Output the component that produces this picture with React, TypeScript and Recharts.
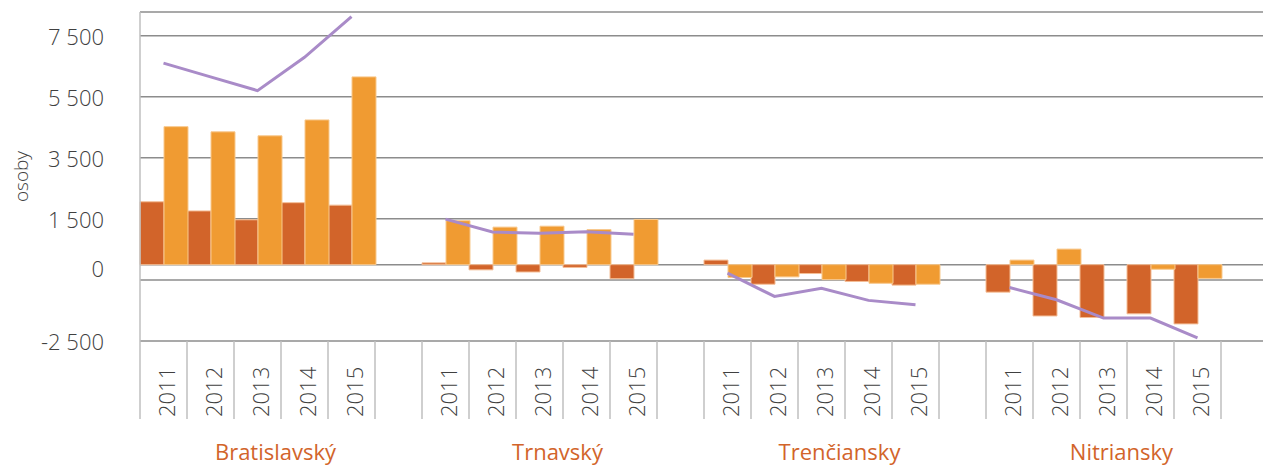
import {
    ComposedChart,
    Bar,
    Line,
    XAxis,
    YAxis,
    CartesianGrid,
} from "recharts";

const regions = ["Bratislavský", "Trnavský", "Trenčiansky", "Nitriansky"];
const years = ["2011", "2012", "2013", "2014", "2015"];

// prirodzený prírastok (dark bars)
const natural = [
    [2060, 1760, 1470, 2030, 1950],
    [60, -170, -240, -90, -460],
    [150, -640, -290, -550, -670],
    [-900, -1680, -1730, -1610, -1940],
];
// migračné saldo (light bars)
const migration = [
    [4520, 4350, 4220, 4740, 6150],
    [1440, 1230, 1260, 1150, 1480],
    [-420, -400, -490, -610, -640],
    [150, 510, 0, -150, -450],
];
// celkový prírastok (line)
const total = [
    [6600, 6150, 5700, 6790, 8120],
    [1490, 1070, 1030, 1080, 1000],
    [-280, -1040, -770, -1170, -1310],
    [-750, -1150, -1750, -1750, -2400],
];

const yTicks = [-2500, -500, 0, 1500, 3500, 5500, 7500];
const yHiddenTicks = [-500];

const DARK = "#D2642A";
const LIGHT = "#F09B32";
const PURPLE = "#A98BC8";
const TEXT = "#404040";
const FONT = "'Open Sans', sans-serif";

// layout
const CHART_W = 1275;
const CHART_H = 467;
const Y_AXIS_W = 140;
const MARGIN = { top: 12, right: 7, left: 0, bottom: 0 };
const SLOT_COUNT = regions.length * (years.length + 1);
const SLOT_W = (CHART_W - Y_AXIS_W - MARGIN.right) / SLOT_COUNT;

const data = regions.flatMap((region, ri) => [
    ...years.map((year, yi) => ({
        key: `${region}-${year}`,
        region,
        year,
        natural: natural[ri][yi],
        migration: migration[ri][yi],
        total: total[ri][yi],
    })),
    { key: `${region}-gap`, region, year: "", natural: null, migration: null, total: null },
]);

const fmt = (v: number) => {
    if (yHiddenTicks.includes(v)) return "";
    const s = Math.abs(v).toString().replace(/\B(?=(\d{3})+(?!\d))/g, " ");
    return v < 0 ? `-${s}` : s;
};

const YTick = (props: any) => {
    const { x, y, payload } = props;
    const label = fmt(payload.value);
    if (!label) return null;
    return (
        <text
            x={x}
            y={y + (payload.value === 0 ? 3 : 0)}
            textAnchor="end"
            dominantBaseline="central"
            fontSize={22}
            fontFamily={FONT}
            fontWeight={300}
            fill={TEXT}
        >
            {label}
        </text>
    );
};

const SlotTick = (props: any) => {
    const { x, y, payload } = props;
    const entry = data[payload.index];
    const left = x - SLOT_W / 2;
    return (
        <g>
            <line x1={left} x2={left} y1={y} y2={y + 78} stroke="#BFBFBF" strokeWidth={1.5} />
            {entry && entry.year && (
                <text
                    transform={`translate(${x + 11},${y + 76}) rotate(-90)`}
                    textAnchor="start"
                    fontSize={22}
                    fontFamily={FONT}
                    fontWeight={300}
                    fill={TEXT}
                >
                    {entry.year}
                </text>
            )}
            {payload.index % (years.length + 1) === 2 && (
                <text
                    x={x + 18}
                    y={y + 119}
                    textAnchor="middle"
                    fontSize={22}
                    fontFamily={FONT}
                    fill={DARK}
                >
                    {entry.region}
                </text>
            )}
        </g>
    );
};

export default function App() {
    return (
        <div
            style={{
                position: "fixed",
                left: 0,
                top: 0,
                width: 1263,
                height: 467,
                overflow: "hidden",
                background: "#fff",
            }}
        >
            <ComposedChart
                width={CHART_W}
                height={CHART_H}
                data={data}
                margin={MARGIN}
                barCategoryGap={0}
                barGap={0}
            >
                <CartesianGrid vertical={false} stroke="#8C8C8C" strokeWidth={1.5} />
                <XAxis
                    dataKey="key"
                    type="category"
                    interval={0}
                    height={CHART_H - MARGIN.top - 329}
                    tickLine={false}
                    axisLine={false}
                    tickSize={0}
                    tickMargin={0}
                    tick={<SlotTick />}
                />
                <YAxis
                    width={Y_AXIS_W}
                    domain={[-2500, 8275]}
                    ticks={yTicks}
                    allowDataOverflow
                    interval={0}
                    tickLine={false}
                    tickSize={0}
                    tickMargin={36}
                    axisLine={{ stroke: "#BFBFBF", strokeWidth: 1.5 }}
                    tick={<YTick />}
                    label={{
                        value: "osoby",
                        angle: -90,
                        position: "insideLeft",
                        offset: 21,
                        style: { textAnchor: "middle", fontSize: 19, fontFamily: FONT, fontWeight: 300, fill: TEXT },
                    }}
                />
                <Bar
                    dataKey="natural"
                    name="Prirodzený prírastok"
                    fill={DARK}
                    stroke="#F4BE96"
                    strokeWidth={1}
                    isAnimationActive={false}
                />
                <Bar
                    dataKey="migration"
                    name="Migračné saldo"
                    fill={LIGHT}
                    stroke="#F8C98E"
                    strokeWidth={1}
                    isAnimationActive={false}
                />
                <Line
                    dataKey="total"
                    name="Celkový prírastok"
                    type="linear"
                    stroke={PURPLE}
                    strokeWidth={3}
                    dot={false}
                    activeDot={false}
                    connectNulls={false}
                    isAnimationActive={false}
                />
            </ComposedChart>
        </div>
    );
}
